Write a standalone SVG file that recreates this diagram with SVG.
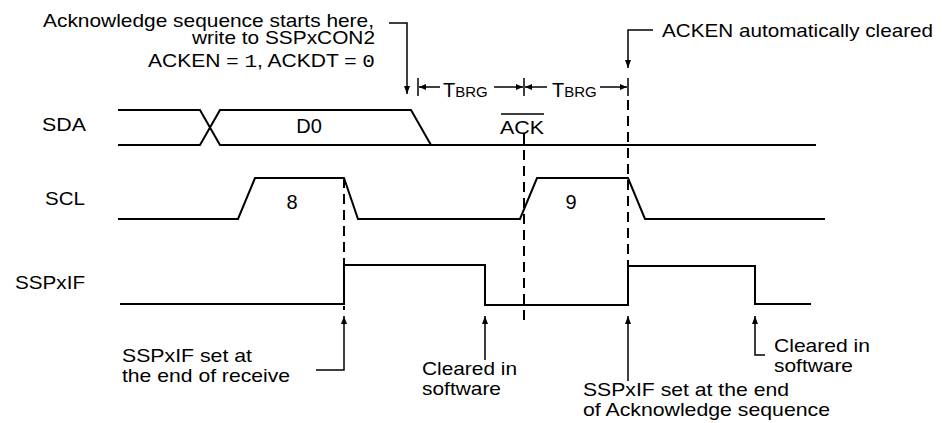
<svg xmlns="http://www.w3.org/2000/svg" width="943" height="423" viewBox="0 0 943 423">
<defs>
<marker id="ah" markerWidth="8" markerHeight="6" refX="8" refY="3" orient="auto" markerUnits="userSpaceOnUse"><path d="M0,0 L8,3 L0,6 z" fill="#000"/></marker>
<marker id="ahs" markerWidth="7" markerHeight="6" refX="7" refY="3" orient="auto" markerUnits="userSpaceOnUse"><path d="M0,0 L7,3 L0,6 z" fill="#000"/></marker>
</defs>
<style>
text{font-family:"Liberation Sans",Arial,Helvetica,sans-serif;font-size:19px;fill:#000}
.mono{font-family:"Liberation Mono","Courier New",monospace;font-size:19px}
.sub{font-size:15px}
.big{font-size:20px}
.sig{fill:none;stroke:#000;stroke-width:2;stroke-linejoin:miter}
.dash{fill:none;stroke:#000;stroke-width:2;stroke-dasharray:10 6}
.ptr{fill:none;stroke:#000;stroke-width:1.5}
.tick{fill:none;stroke:#000;stroke-width:1.5}
</style>
<rect width="943" height="423" fill="#fff"/>

<g id="sda">
<text x="42" y="131" textLength="44" lengthAdjust="spacingAndGlyphs">SDA</text>
<path class="sig" d="M118,110 H200 L220,145 H816 M118,145 H200 L220,110 H411 L431,145"/>
<text class="big" x="309" y="133" text-anchor="middle">D0</text>
<line x1="501" y1="114" x2="544" y2="114" stroke="#000" stroke-width="1.5"/>
<text x="522" y="134" text-anchor="middle" textLength="44" lengthAdjust="spacingAndGlyphs">ACK</text>
</g>

<g id="scl">
<text x="45" y="205" textLength="40" lengthAdjust="spacingAndGlyphs">SCL</text>
<path class="sig" d="M118,219 H238 L255,178 H344 L358,219 H520 L537,178 H628 L645,219 H825"/>
<text class="big" x="292" y="209" text-anchor="middle">8</text>
<text class="big" x="571" y="209" text-anchor="middle">9</text>
</g>

<g id="sspxif">
<text x="15" y="289" textLength="70" lengthAdjust="spacingAndGlyphs">SSPxIF</text>
<path class="sig" d="M120,304 H344 V265 H485 V305 H628 V266 H755 V304 H811"/>
</g>

<g id="note-ack-start">
<text x="43" y="27" textLength="331" lengthAdjust="spacingAndGlyphs">Acknowledge sequence starts here,</text>
<text x="192" y="44" textLength="183" lengthAdjust="spacingAndGlyphs">write to SSPxCON2</text>
<text x="148" y="67" textLength="227" lengthAdjust="spacingAndGlyphs">ACKEN = <tspan class="mono">1</tspan>, ACKDT = <tspan class="mono">0</tspan></text>
</g>

<g id="note-acken-cleared">
<text x="662" y="37" textLength="271" lengthAdjust="spacingAndGlyphs">ACKEN automatically cleared</text>
</g>

<g id="tbrg">
<text class="big" x="443" y="97">T<tspan class="sub">BRG</tspan></text>
<text class="big" x="552" y="97">T<tspan class="sub">BRG</tspan></text>
</g>

<g id="note-set-receive">
<text x="122" y="362" textLength="130" lengthAdjust="spacingAndGlyphs">SSPxIF set at</text>
<text x="122" y="382" textLength="168" lengthAdjust="spacingAndGlyphs">the end of receive</text>
</g>

<g id="note-cleared-1">
<text x="422" y="375" textLength="95" lengthAdjust="spacingAndGlyphs">Cleared in</text>
<text x="422" y="395" textLength="79" lengthAdjust="spacingAndGlyphs">software</text>
</g>

<g id="note-set-ack">
<text x="583" y="396" textLength="206" lengthAdjust="spacingAndGlyphs">SSPxIF set at the end</text>
<text x="583" y="416" textLength="247" lengthAdjust="spacingAndGlyphs">of Acknowledge sequence</text>
</g>

<g id="note-cleared-2">
<text x="774" y="352" textLength="96" lengthAdjust="spacingAndGlyphs">Cleared in</text>
<text x="774" y="372" textLength="79" lengthAdjust="spacingAndGlyphs">software</text>
</g>

<g id="connectors">
<line class="dash" x1="344" y1="178" x2="344" y2="310"/>
<line class="dash" x1="524" y1="134" x2="524" y2="320"/>
<line class="dash" x1="628" y1="100" x2="628" y2="306"/>
<line class="tick" x1="418" y1="78" x2="418" y2="96"/>
<line class="tick" x1="524" y1="78" x2="524" y2="96"/>
<line class="tick" x1="628" y1="78" x2="628" y2="96"/>
<line class="ptr" x1="440" y1="87" x2="419" y2="87" marker-end="url(#ahs)"/>
<line class="ptr" x1="494" y1="87" x2="523" y2="87" marker-end="url(#ahs)"/>
<line class="ptr" x1="547" y1="87" x2="525" y2="87" marker-end="url(#ahs)"/>
<line class="ptr" x1="600" y1="87" x2="627" y2="87" marker-end="url(#ahs)"/>
<path class="ptr" d="M389,23 H407 V94" marker-end="url(#ah)"/>
<path class="ptr" d="M653,30 H628 V68" marker-end="url(#ah)"/>
<path class="ptr" d="M316,370 H344 V316" marker-end="url(#ah)"/>
<path class="ptr" d="M485,360 V316" marker-end="url(#ah)"/>
<path class="ptr" d="M628,381 V316" marker-end="url(#ah)"/>
<path class="ptr" d="M765,355 H755 V316" marker-end="url(#ah)"/>
</g>
</svg>
